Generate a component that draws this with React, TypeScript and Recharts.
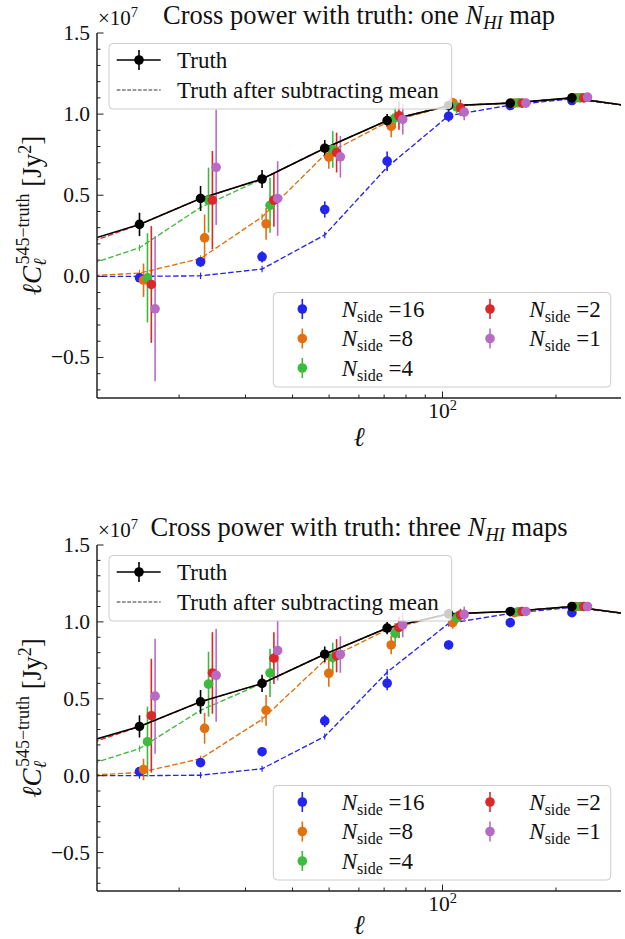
import React from 'react';
import { ComposedChart, Line, Scatter, XAxis, YAxis, ErrorBar } from 'recharts';

const FONT = '"Liberation Serif", "DejaVu Serif", "Times New Roman", serif';
const fontStyle = { fontFamily: FONT };

// bin centres in ell; the first and last fall just outside the axis range and are clipped
const lineEll = [10.8, 15.7, 22.8, 33.2, 48.7, 71.3, 103.8, 151.3, 220.5, 321.0];
const pointEll = [15.7, 22.8, 33.2, 48.7, 71.3, 103.8, 151.3, 220.5];
// horizontal dodge of the N_side series (multiplicative, log axis)
const dodgeFactor = [1.0, 1.025, 1.05, 1.075, 1.1];

// truth (units of 1e7 Jy^2)
const truthVals = [0.204, 0.32, 0.48, 0.6, 0.79, 0.96, 1.052, 1.068, 1.1, 1.047];
const truthErr = [0, 0.072, 0.077, 0.056, 0.05, 0.04, 0.03, 0.02, 0.02, 0];

// truth after subtracting mean, per N_side
const meanSub16 = [0.0, 0.0, 0.003, 0.045, 0.255, 0.673, 0.99, 1.055, 1.095, 1.045];
const meanSub8 = [0.0, 0.02, 0.11, 0.366, 0.75, 0.95, 1.05, 1.068, 1.1, 1.047];
const meanSub4 = [0.05, 0.176, 0.425, 0.6, 0.79, 0.96, 1.052, 1.068, 1.1, 1.047];
const meanSub2 = [0.184, 0.32, 0.48, 0.6, 0.79, 0.96, 1.052, 1.068, 1.1, 1.047];
const meanSubErr = [0, 0.02, 0.02, 0.02, 0.02, 0.02, 0.02, 0.02, 0.02, 0];

// panel 1: one N_HI map
const one16 = [-0.009, 0.089, 0.12, 0.412, 0.71, 0.987, 1.053, 1.084];
const one16Err = [0.02, 0.03, 0.035, 0.05, 0.06, 0.035, 0.02, 0.02];
const one8 = [-0.024, 0.237, 0.324, 0.735, 0.925, 1.07, 1.068, 1.1];
const one8Err = [0.103, 0.144, 0.098, 0.072, 0.067, 0.03, 0.02, 0.02];
const one4 = [-0.009, 0.47, 0.438, 0.782, 0.977, 1.045, 1.07, 1.1];
const one4Err = [0.275, 0.2, 0.17, 0.113, 0.065, 0.04, 0.02, 0.02];
const one2 = [-0.05, 0.47, 0.47, 0.763, 0.99, 1.039, 1.068, 1.1];
const one2Err = [0.36, 0.303, 0.165, 0.123, 0.087, 0.05, 0.025, 0.02];
const one1 = [-0.2, 0.672, 0.48, 0.737, 0.967, 1.012, 1.068, 1.105];
const one1Err = [0.447, 0.355, 0.23, 0.128, 0.093, 0.05, 0.025, 0.02];

// panel 2: three N_HI maps
const three16 = [0.026, 0.085, 0.156, 0.356, 0.601, 0.85, 0.995, 1.06];
const three16Err = [0.02, 0.02, 0.03, 0.04, 0.045, 0.03, 0.02, 0.02];
const three8 = [0.04, 0.308, 0.425, 0.666, 0.85, 0.995, 1.06, 1.1];
const three8Err = [0.07, 0.1, 0.1, 0.087, 0.06, 0.04, 0.02, 0.02];
const three4 = [0.221, 0.595, 0.668, 0.767, 0.926, 1.027, 1.066, 1.1];
const three4Err = [0.228, 0.211, 0.157, 0.098, 0.065, 0.04, 0.02, 0.02];
const three2 = [0.39, 0.668, 0.764, 0.78, 0.965, 1.045, 1.068, 1.1];
const three2Err = [0.37, 0.265, 0.168, 0.108, 0.07, 0.04, 0.02, 0.02];
const three1 = [0.517, 0.653, 0.814, 0.788, 0.98, 1.049, 1.068, 1.1];
const three1Err = [0.374, 0.303, 0.195, 0.119, 0.08, 0.05, 0.02, 0.02];

const nsideLabels = ['16', '8', '4', '2', '1'];
const seriesColors = ['#2424ef', '#e2700f', '#3cbb3c', '#db2828', '#b86bc5'];

const xTicks = [20, 30, 40, 50, 60, 70, 80, 90, 100, 200];
const xMajorTicks = [100];
const yTicks = [-0.7, -0.6, -0.5, -0.4, -0.3, -0.2, -0.1, 0, 0.1, 0.2, 0.3, 0.4, 0.5, 0.6, 0.7, 0.8, 0.9, 1.0, 1.1, 1.2, 1.3, 1.4, 1.5];
const xDomain: [number, number] = [12.11, 297.6];
const yDomain: [number, number] = [-0.75, 1.5];

const W = 625;
const TICK = '#222';
const PLOT_LEFT = 97;
const PLOT_RIGHT = 621;
const MARKER_R = 4.8;

const isMajorY = (v: number) => Math.abs(v * 2 - Math.round(v * 2)) < 1e-6;
const fmtY = (v: number) => (v < -1e-9 ? '\u2212' : '') + Math.abs(v).toFixed(1);
const isMajorX = (v: number) => xMajorTicks.indexOf(v) >= 0;

function LeftTick(p: any) {
  const v = p.payload.value as number;
  const major = isMajorY(v);
  return (
    <g>
      <line x1={p.x} x2={p.x + (major ? 6.5 : 3.5)} y1={p.y} y2={p.y} stroke={TICK} strokeWidth={1} />
      {major ? (
        <text x={p.x - 7} y={p.y + 7} textAnchor="end" style={fontStyle} fontSize={21.5} fill="#111">
          {fmtY(v)}
        </text>
      ) : null}
    </g>
  );
}

function RightTick(p: any) {
  const v = p.payload.value as number;
  const major = isMajorY(v);
  return <line x1={p.x} x2={p.x - (major ? 6.5 : 3.5)} y1={p.y} y2={p.y} stroke={TICK} strokeWidth={1} />;
}

function BottomTick(p: any) {
  const v = p.payload.value as number;
  const major = isMajorX(v);
  return (
    <g>
      <line x1={p.x} x2={p.x} y1={p.y} y2={p.y - (major ? 6.5 : 3.5)} stroke={TICK} strokeWidth={1} />
      {major ? (
        <text x={p.x} y={p.y + 20} textAnchor="middle" style={fontStyle} fontSize={21.5} fill="#111">
          10<tspan dy={-8} fontSize={14.5}>2</tspan>
        </text>
      ) : null}
    </g>
  );
}

function TopTick(p: any) {
  const v = p.payload.value as number;
  const major = isMajorX(v);
  return <line x1={p.x} x2={p.x} y1={p.y} y2={p.y + (major ? 6.5 : 3.5)} stroke={TICK} strokeWidth={1} />;
}

const toLine = (vals: number[], errs: number[]) => lineEll.map((x, i) => ({ x, y: vals[i], e: errs[i] }));
const toPoints = (vals: number[], errs: number[], k: number) =>
  pointEll.map((x, i) => ({ x: x * dodgeFactor[k], y: vals[i], e: errs[i] }));

const meanLines = [
  { vals: meanSub16, color: seriesColors[0] },
  { vals: meanSub8, color: seriesColors[1] },
  { vals: meanSub4, color: seriesColors[2] },
  { vals: meanSub2, color: seriesColors[3] },
];

type PanelProps = {
  top: number;
  height: number;
  pt: number;
  pb: number;
  xLabelDy: number;
  titleCount: string;
  titleNoun: string;
  vals: number[][];
  errs: number[][];
};

function Panel({ top, height, pt, pb, xLabelDy, titleCount, titleNoun, vals, errs }: PanelProps) {
  const margin = { top: pt, right: W - PLOT_RIGHT, left: PLOT_LEFT - 60, bottom: height - pb - 30 };
  const axisLine = { stroke: '#222', strokeWidth: 1.5 };
  const truthLine = toLine(truthVals, truthErr);
  const truthPts = pointEll.map((x, i) => ({ x, y: truthVals[i + 1], e: truthErr[i + 1] }));
  const midY = (pt + pb) / 2;
  const l1Top = pt + 10.5;
  const r1 = pt + 27;
  const r2 = pt + 57;
  const l2Top = pb - 105.5;
  const rows = [pb - 89, pb - 59.5, pb - 30];
  const colMarker = [302.3, 490];
  const colText = [341.7, 529.3];

  return (
    <div style={{ position: 'absolute', left: 0, top, width: W, height }}>
      <ComposedChart width={W} height={height} margin={margin}>
        <XAxis
          dataKey="x"
          type="number"
          scale="log"
          domain={xDomain}
          allowDataOverflow
          ticks={xTicks}
          interval={0}
          tickSize={0}
          tickMargin={0}
          tickLine={false}
          axisLine={axisLine}
          height={30}
          tick={(p: any) => <BottomTick {...p} />}
        />
        <XAxis
          xAxisId="top"
          orientation="top"
          dataKey="x"
          type="number"
          scale="log"
          domain={xDomain}
          allowDataOverflow
          ticks={xTicks}
          interval={0}
          tickSize={0}
          tickMargin={0}
          tickLine={false}
          axisLine={axisLine}
          height={0}
          tick={(p: any) => <TopTick {...p} />}
        />
        <YAxis
          type="number"
          domain={yDomain}
          allowDataOverflow
          ticks={yTicks}
          interval={0}
          tickSize={0}
          tickMargin={0}
          tickLine={false}
          axisLine={axisLine}
          width={60}
          tick={(p: any) => <LeftTick {...p} />}
        />
        <YAxis
          yAxisId="right"
          orientation="right"
          type="number"
          domain={yDomain}
          allowDataOverflow
          ticks={yTicks}
          interval={0}
          tickSize={0}
          tickMargin={0}
          tickLine={false}
          axisLine={axisLine}
          width={0}
          tick={(p: any) => <RightTick {...p} />}
        />

        {meanLines.map((m, i) => (
          <Line
            key={'mean' + i}
            data={toLine(m.vals, meanSubErr)}
            dataKey="y"
            type="linear"
            stroke={m.color}
            strokeWidth={1.35}
            strokeDasharray="5.5 2.4"
            dot={false}
            activeDot={false}
            isAnimationActive={false}
          >
            <ErrorBar dataKey="e" direction="y" width={0} stroke={m.color} strokeWidth={1.2} />
          </Line>
        ))}

        {vals.map((v, k) => (
          <Scatter
            key={'ns' + k}
            data={toPoints(v, errs[k], k)}
            dataKey="y"
            fill={seriesColors[k]}
            isAnimationActive={false}
            shape={(p: any) => <circle cx={p.cx} cy={p.cy} r={MARKER_R} fill={seriesColors[k]} />}
          >
            <ErrorBar dataKey="e" direction="y" width={0} stroke={seriesColors[k]} strokeWidth={1.6} />
          </Scatter>
        ))}

        <Line
          data={truthLine}
          dataKey="y"
          type="linear"
          stroke="#000"
          strokeWidth={1.6}
          dot={false}
          activeDot={false}
          isAnimationActive={false}
        />
        <Scatter
          data={truthPts}
          dataKey="y"
          fill="#000"
          isAnimationActive={false}
          shape={(p: any) => <circle cx={p.cx} cy={p.cy} r={MARKER_R} fill="#000" />}
        >
          <ErrorBar dataKey="e" direction="y" width={0} stroke="#000" strokeWidth={1.6} />
        </Scatter>
      </ComposedChart>

      <svg
        width={W}
        height={height}
        style={{ position: 'absolute', left: 0, top: 0, pointerEvents: 'none', fontFamily: FONT }}
      >
        {/* multiplier and title */}
        <text x={98} y={pt - 8} style={fontStyle} fontSize={21} fill="#111">
          {'\u00d7'}10<tspan dy={-8} fontSize={14.5}>7</tspan>
        </text>
        <text x={359} y={pt - 9} textAnchor="middle" style={fontStyle} fontSize={26.5} fill="#111">
          {'Cross power with truth: ' + titleCount + ' '}
          <tspan fontStyle="italic">N</tspan>
          <tspan fontStyle="italic" fontSize={18.5} dy={5}>HI</tspan>
          <tspan dy={-5}>{' ' + titleNoun}</tspan>
        </text>

        {/* y label */}
        <text
          transform={`translate(41, ${midY}) rotate(-90)`}
          textAnchor="middle"
          style={fontStyle}
          fontSize={27}
          fill="#111"
        >
          <tspan fontStyle="italic">{'\u2113C'}</tspan>
          <tspan fontStyle="italic" fontSize={18} dy={5}>{'\u2113'}</tspan>
          <tspan fontSize={18} dx={-6} dy={-17}>{'545\u2212truth'}</tspan>
          <tspan dy={12}>{' [Jy'}</tspan>
          <tspan fontSize={18} dy={-10}>2</tspan>
          <tspan dy={10}>]</tspan>
        </text>

        {/* x label */}
        <text x={359} y={pb + xLabelDy} textAnchor="middle" style={fontStyle} fontSize={27} fontStyle="italic" fill="#111">
          {'\u2113'}
        </text>

        {/* upper-left legend */}
        <rect x={109} y={l1Top} width={342.7} height={65.5} rx={4} fill="rgba(255,255,255,0.8)" stroke="#cccccc" strokeWidth={1} />
        <line x1={116.7} x2={160.7} y1={r1} y2={r1} stroke="#000" strokeWidth={1.6} />
        <line x1={139} x2={139} y1={r1 - 10} y2={r1 + 10} stroke="#000" strokeWidth={1.6} />
        <circle cx={139} cy={r1} r={MARKER_R} fill="#000" />
        <text x={177} y={r1 + 7.5} style={fontStyle} fontSize={23} fill="#111">Truth</text>
        <line x1={116.7} x2={160.7} y1={r2} y2={r2} stroke="#333" strokeWidth={1} strokeDasharray="3.7 1.6" />
        <text x={177} y={r2 + 7.5} style={fontStyle} fontSize={23} fill="#111">Truth after subtracting mean</text>

        {/* lower-right legend */}
        <rect x={273.3} y={l2Top} width={337.4} height={94.5} rx={4} fill="rgba(255,255,255,0.8)" stroke="#cccccc" strokeWidth={1} />
        {nsideLabels.map((lab, i) => {
          const col = i < 3 ? 0 : 1;
          const ry = rows[i < 3 ? i : i - 3];
          const mx = colMarker[col];
          return (
            <g key={'lg' + i}>
              <line x1={mx} x2={mx} y1={ry - 10} y2={ry + 10} stroke={seriesColors[i]} strokeWidth={1.6} />
              <circle cx={mx} cy={ry} r={MARKER_R} fill={seriesColors[i]} />
              <text x={colText[col]} y={ry + 7.5} style={fontStyle} fontSize={23} fill="#111">
                <tspan fontStyle="italic">N</tspan>
                <tspan fontSize={16} dy={5}>side</tspan>
                <tspan dy={-5}>{' =' + lab}</tspan>
              </text>
            </g>
          );
        })}
      </svg>
    </div>
  );
}

export default function App() {
  return (
    <div style={{ position: 'absolute', left: 0, top: 0, width: W, height: 939, background: '#fff' }}>
      <Panel
        top={0}
        height={470}
        pt={33}
        pb={398}
        xLabelDy={48}
        titleCount="one"
        titleNoun="map"
        vals={[one16, one8, one4, one2, one1]}
        errs={[one16Err, one8Err, one4Err, one2Err, one1Err]}
      />
      <Panel
        top={470}
        height={469}
        pt={75}
        pb={421}
        xLabelDy={43}
        titleCount="three"
        titleNoun="maps"
        vals={[three16, three8, three4, three2, three1]}
        errs={[three16Err, three8Err, three4Err, three2Err, three1Err]}
      />
    </div>
  );
}
